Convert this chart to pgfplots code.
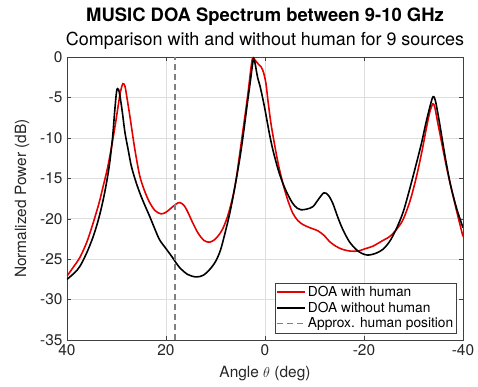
\documentclass[border=0pt]{standalone}
\usepackage{pgfplots}
\pgfplotsset{compat=1.18}
\usepackage{fontspec}
\setmainfont{TeX Gyre Heros}
\definecolor{mred}{rgb}{0.9,0,0}
\definecolor{mgray}{rgb}{0.5,0.5,0.5}
\begin{document}
\begin{tikzpicture}
\useasboundingbox (-67bp,-47bp) rectangle (411bp,340bp);
\begin{axis}[
  at={(0,0)}, anchor=south west,
  scale only axis, width=396bp, height=283bp,
  xmin=-40, xmax=40, x dir=reverse,
  ymin=-35, ymax=0,
  xtick={-40,-20,0,20,40}, ytick={-35,-30,...,0},
  grid=major, grid style={black!13, line width=0.5pt},
  tick align=inside, major tick length=4bp,
  axis line style={black!75, line width=0.6pt},
  tick style={black!75},
  ticklabel style={font=\fontsize{15.5}{17}\selectfont, text=black!85},
  yticklabel style={xshift=-1bp},
  xticklabel style={yshift=-1bp},
  /pgf/number format/assume math mode=true,
  xlabel={Angle $\theta$ (deg)}, ylabel={Normalized Power (dB)},
  label style={font=\fontsize{15.5}{17}\selectfont, text=black!85},
  xlabel style={at={(axis description cs:0.5,-0.117)}, anchor=center},
  ylabel style={at={(axis description cs:-0.113,0.5)}, anchor=center},
  legend style={at={(1,0)}, anchor=south east, xshift=-6bp, yshift=7bp,
    font=\fontsize{13.8}{16}\selectfont, draw=black!75, line width=0.5pt,
    inner sep=1.5bp, row sep=0bp},
  legend cell align=left,
  legend image code/.code={\draw[#1] (0bp,0bp) -- (28bp,0bp);},
]
\addplot[mred, line width=1.6bp, smooth] coordinates {
(40,-27.1) (38.5,-25.8) (37.4,-24.8) (36,-22.9) (34.7,-20.5) (33.5,-18.0)
(32.7,-16.0) (31.8,-13.7) (31.0,-11.1) (30.3,-8.6) (29.7,-6.2) (29.2,-4.3)
(28.7,-3.3) (28.3,-3.6) (28.0,-4.6) (27.3,-7.3) (26.3,-11.4) (25.3,-14.7)
(24.3,-16.6) (23.3,-18.0) (22.2,-19.0) (21.0,-19.4) (20.0,-19.2) (19.0,-18.7)
(18.0,-18.2) (17.2,-18.0) (16.3,-18.4) (15.5,-19.3) (14.6,-20.5) (13.5,-21.8)
(12.3,-22.7) (11.2,-22.9) (10.2,-22.6) (9.3,-22.0) (8.5,-21.2) (7.5,-19.6)
(6.5,-17.3) (5.8,-15.0) (5.2,-12.4) (4.5,-9.3) (3.8,-6.2) (3.3,-3.8)
(2.9,-1.7) (2.5,-0.1) (2.0,-0.4) (1.3,-0.9) (0.8,-1.2) (0.3,-1.9)
(-0.2,-3.3) (-0.6,-5.4) (-1.2,-8.2) (-1.9,-10.7) (-2.7,-13.3) (-3.6,-15.6)
(-4.6,-17.7) (-5.6,-19.3) (-6.6,-20.2) (-7.6,-20.7) (-9.0,-21.1) (-10.7,-21.5)
(-12.0,-22.1) (-13.0,-22.8) (-14.3,-23.4) (-15.7,-23.8) (-17.2,-24.0) (-18.8,-24.0)
(-20.3,-23.7) (-21.8,-23.4) (-23.5,-22.8) (-25.2,-22.2) (-26.6,-21.3) (-27.9,-20.1)
(-29.3,-17.8) (-30.6,-14.8) (-31.7,-11.7) (-32.6,-8.8) (-33.3,-6.8) (-33.9,-5.8)
(-34.3,-6.2) (-34.8,-7.8) (-35.6,-10.3) (-36.6,-13.4) (-37.7,-16.4) (-38.9,-19.5)
(-40,-22.2)
};
\addlegendentry{DOA with human}
\addplot[black, line width=1.6bp, smooth] coordinates {
(40,-27.5) (38.5,-26.7) (37.4,-25.9) (36,-24.2) (34.7,-22.2) (33.6,-20.0)
(32.7,-17.7) (32.0,-15.5) (31.4,-13.2) (30.8,-10.0) (30.4,-7.0) (30.1,-4.9)
(29.9,-4.0) (29.6,-4.0) (29.3,-4.8) (28.8,-6.9) (28.3,-9.3) (27.6,-11.6)
(27.0,-13.5) (26.2,-15.2) (25.3,-16.8) (24.3,-18.3) (23.3,-19.7) (22.3,-21.2)
(21.3,-22.6) (20.0,-23.7) (18.8,-24.7) (17.3,-26.0) (15.6,-26.9) (13.9,-27.2)
(12.5,-27.0) (11.2,-26.3) (10.0,-25.3) (9.0,-23.9) (8.0,-21.6) (7.0,-19.0)
(6.0,-15.8) (5.0,-12.2) (4.3,-9.2) (3.6,-5.9) (3.0,-3.2) (2.6,-1.3)
(2.3,-0.2) (2.0,-0.8) (1.5,-2.5) (1.0,-3.6) (0.5,-5.0) (0,-6.5)
(-0.9,-9.5) (-1.6,-11.5) (-2.6,-13.8) (-3.6,-15.6) (-4.6,-17.0) (-5.6,-18.1)
(-6.5,-18.7) (-7.3,-18.9) (-8.5,-18.8) (-9.7,-18.5) (-10.8,-17.6) (-11.9,-16.8)
(-12.8,-17.1) (-13.7,-18.1) (-14.7,-19.8) (-15.7,-21.3) (-17.0,-22.8) (-18.4,-23.8)
(-19.6,-24.3) (-20.8,-24.5) (-22.3,-24.3) (-23.8,-23.8) (-25.2,-22.8) (-26.5,-21.3)
(-27.9,-19.2) (-29.2,-16.4) (-30.4,-13.6) (-31.6,-10.7) (-32.5,-8.2) (-33.3,-6.2)
(-33.8,-5.1) (-34.1,-4.9) (-34.5,-5.6) (-35.3,-8.3) (-36.3,-12.0) (-37.4,-15.6)
(-38.7,-18.7) (-40,-21.1)
};
\addlegendentry{DOA without human}
\addplot[mgray, line width=1.6bp, dash pattern=on 6bp off 4bp] coordinates {(18.2,-35) (18.2,0)};
\addlegendentry{Approx. human position}
\end{axis}
\node[font=\bfseries\fontsize{18.5}{20}\selectfont] at (198bp,323bp) {MUSIC DOA Spectrum between 9-10 GHz};
\node[font=\fontsize{18}{20}\selectfont] at (198bp,299bp) {Comparison with and without human for 9 sources};
\end{tikzpicture}
\end{document}
